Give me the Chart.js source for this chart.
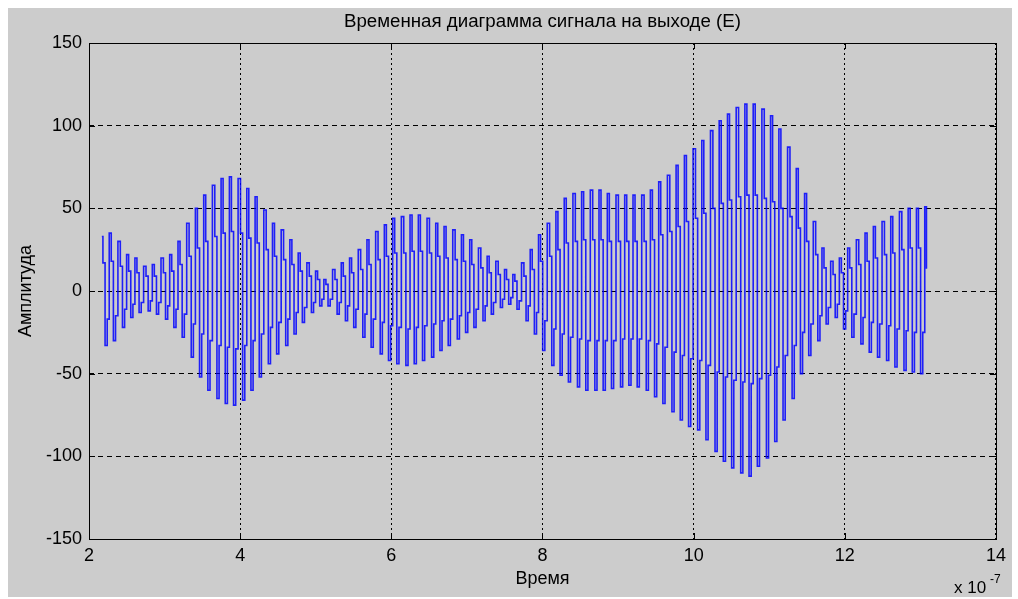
<!DOCTYPE html>
<html>
<head>
<meta charset="utf-8">
<script src="https://cdn.jsdelivr.net/npm/chart.js@4/dist/chart.umd.min.js"></script>
<style>
  html, body { margin: 0; padding: 0; background: #ffffff; }
  #panel { position: absolute; left: 8px; top: 8px; width: 1004px; height: 589px; background: #cccccc; }
  canvas { display: block; }
</style>
</head>
<body>
<div id="panel"><canvas id="chart" width="1004" height="589"></canvas></div>
<script>
// Output signal (E): one entry per carrier cycle, time in units of 1e-7 s.
const cycleTimes = [
  2.17, 2.28, 2.40, 2.51, 2.62, 2.74, 2.85, 2.97, 3.08, 3.19,
  3.31, 3.42, 3.53, 3.65, 3.76, 3.87, 3.99, 4.10, 4.21, 4.33,
  4.44, 4.56, 4.67, 4.78, 4.90, 5.01, 5.12, 5.24, 5.35, 5.46,
  5.58, 5.69, 5.81, 5.92, 6.03, 6.15, 6.26, 6.37, 6.49, 6.60,
  6.71, 6.83, 6.94, 7.05, 7.17, 7.28, 7.40, 7.51, 7.62, 7.74,
  7.85, 7.96, 8.08, 8.19, 8.30, 8.42, 8.53, 8.65, 8.76, 8.87,
  8.99, 9.10, 9.21, 9.33, 9.44, 9.55, 9.67, 9.78, 9.89, 10.01,
  10.12, 10.24, 10.35, 10.46, 10.58, 10.69, 10.80, 10.92, 11.03, 11.14,
  11.26, 11.37, 11.48, 11.60, 11.71, 11.83, 11.94, 12.05, 12.17, 12.28,
  12.39, 12.51, 12.62, 12.74, 12.85, 12.96
];
// Positive peak of each cycle
const peakHigh = [
  33, 35, 30, 22, 20, 15, 16, 20, 22, 30,
  41, 50, 58, 64, 68, 69, 68, 62, 57, 49,
  41, 37, 31, 23, 17, 12, 7, 13, 17, 20,
  25, 31, 36, 40, 44, 45, 46, 46, 44, 41,
  39, 37, 34, 31, 26, 21, 18, 13, 10, 17,
  25, 34, 41, 48, 56, 59, 60, 61, 61, 59,
  58, 58, 58, 58, 61, 66, 70, 76, 82, 86,
  91, 97, 103, 107, 111, 113, 113, 110, 106, 98,
  87, 74, 59, 42, 26, 18, 20, 26, 31, 35,
  39, 42, 45, 48, 50, 50
];
// Sample following the positive peak
const innerHigh = [
  17, 18, 15, 12, 11, 9, 9, 11, 12, 16,
  21, 26, 30, 33, 35, 36, 35, 32, 29, 25,
  21, 19, 16, 12, 9, 7, 4, 7, 9, 11,
  13, 16, 19, 21, 23, 23, 24, 24, 23, 21,
  20, 19, 18, 16, 14, 11, 10, 7, 6, 9,
  13, 18, 21, 25, 29, 30, 31, 31, 31, 30,
  30, 30, 30, 30, 31, 34, 36, 39, 42, 44,
  47, 50, 53, 55, 57, 58, 58, 56, 54, 50,
  45, 38, 30, 22, 14, 10, 11, 14, 16, 18,
  20, 22, 23, 25, 26, 26
];
// Negative peak of each cycle
const peakLow = [
  -33, -30, -22, -16, -13, -12, -14, -17, -22, -28,
  -40, -52, -60, -65, -68, -69, -66, -60, -52, -44,
  -38, -33, -26, -19, -13, -9, -9, -14, -18, -22,
  -28, -34, -38, -42, -44, -45, -44, -42, -40, -36,
  -33, -29, -25, -22, -18, -14, -10, -8, -11, -18,
  -26, -36, -45, -51, -55, -58, -60, -60, -60, -59,
  -58, -57, -58, -60, -64, -68, -73, -78, -82, -84,
  -90, -97, -103, -107, -110, -112, -106, -101, -91, -78,
  -65, -50, -39, -30, -20, -16, -23, -28, -32, -37,
  -40, -42, -46, -48, -49, -50
];
// Sample following the negative peak
const innerLow = [
  -17, -15, -11, -8, -7, -6, -7, -9, -11, -14,
  -20, -26, -30, -33, -34, -35, -33, -30, -26, -22,
  -19, -17, -13, -10, -7, -5, -5, -7, -9, -11,
  -14, -17, -19, -21, -22, -23, -22, -21, -20, -18,
  -17, -15, -13, -11, -9, -7, -5, -4, -6, -9,
  -13, -18, -23, -26, -28, -29, -30, -30, -30, -30,
  -29, -29, -29, -30, -32, -34, -37, -39, -41, -42,
  -45, -49, -52, -54, -55, -56, -53, -51, -46, -39,
  -33, -25, -20, -15, -10, -8, -12, -14, -16, -19,
  -20, -21, -23, -24, -25, -25
];
// Closing samples after the last full cycle
const tailTimes = [13.07, 13.09];
const tailValues = [51, 14];

const SAMPLE_STEP = 0.0284; // spacing of the four samples inside one cycle

const xTicks = [2, 4, 6, 8, 10, 12, 14];
const yTicks = [-150, -100, -50, 0, 50, 100, 150];

const TITLE = 'Временная диаграмма сигнала на выходе (E)';

const points = [];
cycleTimes.forEach((t, i) => {
  points.push({ x: t, y: peakHigh[i] });
  points.push({ x: t + SAMPLE_STEP, y: innerHigh[i] });
  points.push({ x: t + 2 * SAMPLE_STEP, y: peakLow[i] });
  points.push({ x: t + 3 * SAMPLE_STEP, y: innerLow[i] });
});
tailTimes.forEach((t, i) => points.push({ x: t, y: tailValues[i] }));

const FAMILY = "'Liberation Sans', Arial, sans-serif";
const FONT = { family: FAMILY, size: 18 };

// Box around the axes, inward tick marks on every side, title and exponent label
const axesBox = {
  id: 'axesBox',
  afterDraw(chart) {
    const { ctx, chartArea: a, scales } = chart;
    ctx.save();
    ctx.strokeStyle = '#000';
    ctx.lineWidth = 1;
    ctx.setLineDash([]);
    ctx.strokeRect(Math.round(a.left) + 0.5, Math.round(a.top) + 0.5,
                   Math.round(a.right - a.left), Math.round(a.bottom - a.top));
    const len = 6;
    ctx.beginPath();
    xTicks.forEach(v => {
      const px = Math.round(scales.x.getPixelForValue(v)) + 0.5;
      ctx.moveTo(px, a.bottom); ctx.lineTo(px, a.bottom - len);
      ctx.moveTo(px, a.top); ctx.lineTo(px, a.top + len);
    });
    yTicks.forEach(v => {
      const py = Math.round(scales.y.getPixelForValue(v)) + 0.5;
      ctx.moveTo(a.left, py); ctx.lineTo(a.left + len, py);
      ctx.moveTo(a.right, py); ctx.lineTo(a.right - len, py);
    });
    ctx.stroke();

    ctx.fillStyle = '#000';
    ctx.textBaseline = 'middle';
    ctx.textAlign = 'center';
    ctx.font = '18.7px ' + FAMILY;
    ctx.fillText(TITLE, (a.left + a.right) / 2, 14);

    ctx.textBaseline = 'alphabetic';
    ctx.textAlign = 'left';
    ctx.font = '17px ' + FAMILY;
    ctx.fillText('x 10', 946, 585);
    ctx.font = '12px ' + FAMILY;
    ctx.fillText('-7', 982, 575);
    ctx.restore();
  }
};

new Chart(document.getElementById('chart'), {
  type: 'line',
  data: {
    datasets: [{
      data: points,
      borderColor: 'rgba(0, 0, 255, 0.85)',
      borderWidth: 1.6,
      pointRadius: 0,
      stepped: 'middle',
      fill: false
    }]
  },
  options: {
    responsive: false,
    animation: false,
    devicePixelRatio: 1,
    layout: { padding: { left: 0, right: 10, top: 35, bottom: 0 } },
    plugins: {
      legend: { display: false },
      tooltip: { enabled: false },
      title: { display: false }
    },
    scales: {
      x: {
        type: 'linear',
        min: 2, max: 14,
        z: 1,
        afterBuildTicks: s => { s.ticks = xTicks.map(v => ({ value: v })); },
        afterFit: s => { s.height = 58; },
        ticks: { color: '#000', font: FONT, padding: 6, maxRotation: 0 },
        grid: { color: '#000', lineWidth: 1, drawTicks: false },
        border: { display: false, dash: [2, 3] },
        title: { display: true, text: 'Время', color: '#000', font: FONT, padding: { top: 0, bottom: 7 } }
      },
      y: {
        type: 'linear',
        min: -150, max: 150,
        z: 1,
        afterBuildTicks: s => { s.ticks = yTicks.map(v => ({ value: v })); },
        afterFit: s => { s.width = 81; },
        ticks: { color: '#000', font: FONT, padding: 7 },
        grid: { color: '#000', lineWidth: 1, drawTicks: false },
        border: { display: false, dash: [5, 4] },
        title: { display: true, text: 'Амплитуда', color: '#000', font: FONT, padding: { top: 7, bottom: 0 } }
      }
    }
  },
  plugins: [axesBox]
});
</script>
</body>
</html>
